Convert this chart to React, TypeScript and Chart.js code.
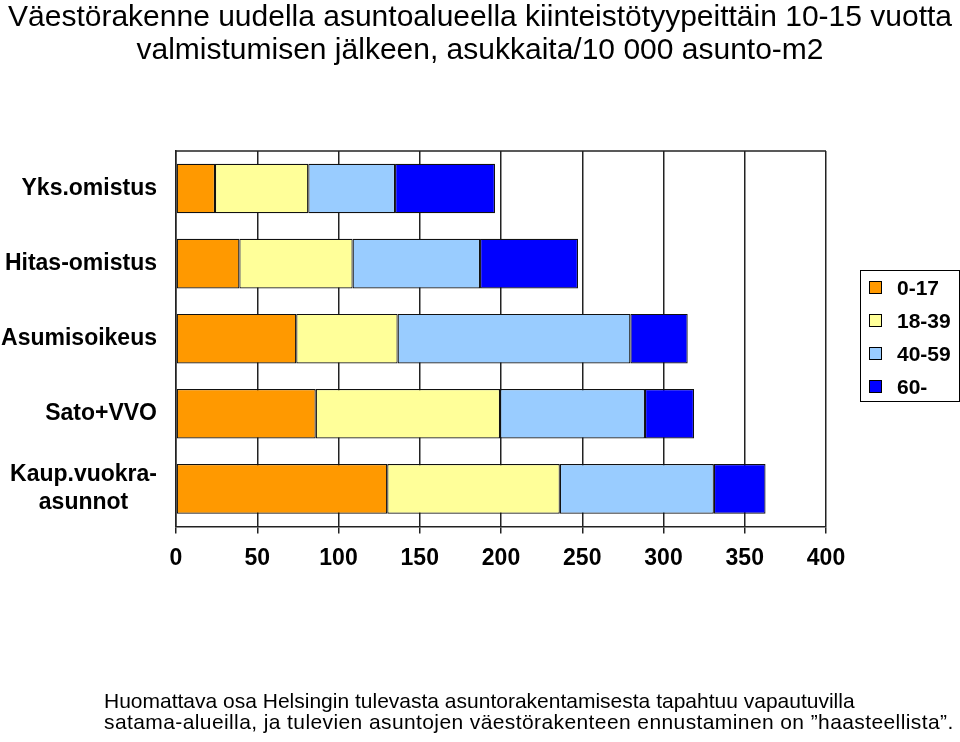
import React, { useEffect, useRef } from "react";
import { Chart, registerables } from "chart.js";

Chart.register(...registerables);

const titleLines = [
  "Väestörakenne uudella asuntoalueella kiinteistötyypeittäin 10-15 vuotta",
  "valmistumisen jälkeen, asukkaita/10 000 asunto-m2",
];
const footLines = [
  "Huomattava osa Helsingin tulevasta asuntorakentamisesta tapahtuu vapautuvilla",
  "satama-alueilla, ja tulevien asuntojen väestörakenteen ennustaminen on \u201dhaasteellista\u201d.",
];
const categories: string[][] = [
  ["Yks.omistus"],
  ["Hitas-omistus"],
  ["Asumisoikeus"],
  ["Sato+VVO"],
  ["Kaup.vuokra-", "asunnot"],
];
const seriesNames = ["0-17", "18-39", "40-59", "60-"];
const age0_17 = [24, 39, 74, 86, 130];
const age18_39 = [57.4, 69.7, 62.4, 113.4, 106.2];
const age40_59 = [53.4, 78.4, 143.2, 89.2, 94.8];
const age60 = [61.5, 60.3, 35.3, 30.2, 31.8];
const xTicks = [0, 50, 100, 150, 200, 250, 300, 350, 400];
const colors = ["#FF9900", "#FFFF99", "#99CCFF", "#0000FF"];

const FONT = "'Liberation Sans', Arial, sans-serif";

const decorPlugin = {
  id: "decor",
  afterDraw(chart: any) {
    const ctx = chart.ctx;
    const area = chart.chartArea;
    const yScale = chart.scales.y;
    ctx.save();
    // top border
    ctx.strokeStyle = "#222";
    ctx.lineWidth = 1.5;
    ctx.beginPath();
    ctx.moveTo(area.left, area.top);
    ctx.lineTo(area.right, area.top);
    ctx.stroke();

    // title
    ctx.fillStyle = "#000";
    ctx.textAlign = "center";
    ctx.textBaseline = "middle";
    ctx.font = `30px ${FONT}`;
    titleLines.forEach((t, i) => ctx.fillText(t, 480, 18 + i * 33));
    // footnote (left aligned block)
    ctx.font = `21px ${FONT}`;
    ctx.textAlign = "left";
    footLines.forEach((t, i) => {
      if (i === 1) {
        const w = ctx.measureText(t).width;
        const target = 849;
        const extra = (target - w) / Math.max(1, t.length - 1);
        (ctx as any).letterSpacing = `${extra.toFixed(2)}px`;
      } else {
        (ctx as any).letterSpacing = "0px";
      }
      ctx.fillText(t, 104, 702 + i * 21);
    });
    (ctx as any).letterSpacing = "0px";

    // category labels
    ctx.font = `bold 23px ${FONT}`;
    const right = area.left - 19;
    categories.forEach((lines, i) => {
      const yc = yScale.getPixelForTick(i);
      const lh = 28;
      const maxW = Math.max(...lines.map((l) => ctx.measureText(l).width));
      const cx = right - maxW / 2;
      lines.forEach((l, j) => {
        const y = yc + (j - (lines.length - 1) / 2) * lh;
        ctx.textAlign = "center";
        ctx.fillText(l, cx, y);
      });
    });

    // legend
    const lx = area.right + 34;
    const ly = 270;
    const lw = 99;
    const lhh = 131;
    ctx.fillStyle = "#fff";
    ctx.fillRect(lx, ly, lw, lhh);
    ctx.strokeStyle = "#000";
    ctx.lineWidth = 1;
    ctx.strokeRect(lx + 0.5, ly + 0.5, lw, lhh);
    ctx.font = `bold 21px ${FONT}`;
    ctx.textAlign = "left";
    chart.data.datasets.forEach((ds: any, i: number) => {
      const cy = ly + 18 + i * 33;
      ctx.fillStyle = ds.backgroundColor;
      ctx.fillRect(lx + 9, cy - 7, 13, 13);
      ctx.strokeStyle = "#000";
      ctx.strokeRect(lx + 9.5, cy - 6.5, 12, 12);
      ctx.fillStyle = "#000";
      ctx.fillText(ds.label, lx + 37, cy + 1);
    });
    ctx.restore();
  },
};

export default function App() {
  const ref = useRef<HTMLCanvasElement | null>(null);
  useEffect(() => {
    if (!ref.current) return;
    const series = [age0_17, age18_39, age40_59, age60];
    const chart = new Chart(ref.current, {
      type: "bar",
      data: {
        labels: categories.map((c) => c.join(" ")),
        datasets: series.map((d, i) => ({
          label: seriesNames[i],
          data: d,
          backgroundColor: colors[i],
          borderColor: "#111",
          borderWidth: 1.2,
          borderSkipped: false,
          barPercentage: 0.66,
          categoryPercentage: 1,
        })),
      },
      options: {
        indexAxis: "y",
        animation: false,
        responsive: false,
        maintainAspectRatio: false,
        layout: { padding: { left: 176, right: 134, top: 151, bottom: 159 } },
        plugins: {
          legend: { display: false },
          title: { display: false },
          tooltip: { enabled: false },
        },
        scales: {
          x: {
            stacked: true,
            min: 0,
            max: 400,
            afterBuildTicks: (scale: any) => {
              scale.ticks = xTicks.map((v) => ({ value: v }));
            },
            ticks: {
              color: "#000",
              font: { family: FONT, size: 23, weight: "bold" },
              padding: 11,
              maxRotation: 0,
            },
            grid: { color: "#222", lineWidth: 1.5, tickLength: 7, drawOnChartArea: true },
            border: { display: true, color: "#222", width: 1.5 },
          },
          y: {
            stacked: true,
            ticks: { display: false },
            grid: { display: false, drawTicks: false },
            border: { display: true, color: "#222", width: 1.5 },
            afterFit: (scale: any) => {
              scale.width = 0;
            },
          },
        },
      },
      plugins: [decorPlugin],
    } as any);
    return () => chart.destroy();
  }, []);
  return (
    <div style={{ position: "absolute", left: 0, top: 0, width: 960, height: 742, background: "#fff" }}>
      <canvas ref={ref} width={960} height={742} style={{ width: 960, height: 742, display: "block" }} />
    </div>
  );
}
